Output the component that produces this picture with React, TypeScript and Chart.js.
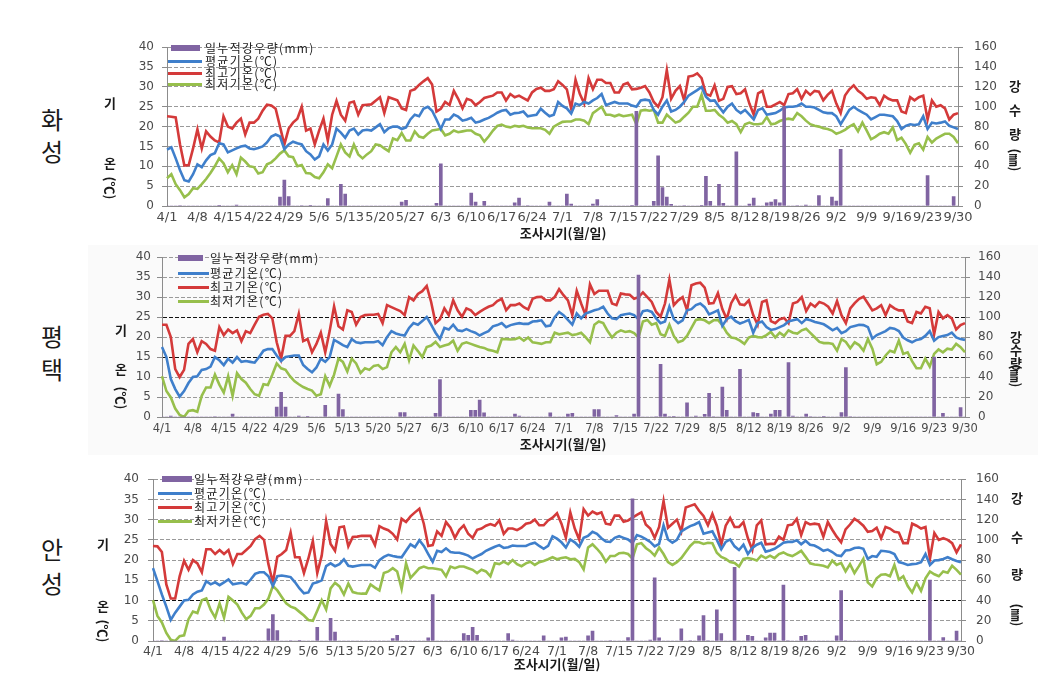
import React, { useEffect, useRef } from 'react';
import { Chart, registerables } from 'chart.js';

Chart.register(...registerables);

// ---------- categories ----------
const monthNames = ['4', '5', '6', '7', '8', '9'];
const monthLengths = [30, 31, 30, 31, 31, 30];
const dayLabels: string[] = [];
monthNames.forEach((m, k) => {
  for (let d = 1; d <= monthLengths[k]; d++) dayLabels.push(m + '/' + d);
});

const tickLabels = ['4/1', '4/8', '4/15', '4/22', '4/29', '5/6', '5/13', '5/20', '5/27', '6/3', '6/10', '6/17', '6/24', '7/1', '7/8', '7/15', '7/22', '7/29', '8/5', '8/12', '8/19', '8/26', '9/2', '9/9', '9/16', '9/23', '9/30'];

const seriesNames = ['일누적강우량(mm)', '평균기온(℃)', '최고기온(℃)', '최저기온(℃)'];
const stationNames = ['화성', '평택', '안성'];
const leftTitle = ['기', '온', '(℃)'];
const rightTitle = ['강', '수', '량', '(㎜)'];
const xTitle = '조사시기(월/일)';

// ---------- 화성 ----------
const hwaRain = [
  0, 0, 0, 0.5, 0, 0, 0,
  0, 0, 0, 0, 0, 0.3, 0,
  0, 0, 1, 0, 0, 0, 0,
  0, 0, 0, 0, 0, 9, 26,
  9.6, 0, 0, 0.5, 0, 0.3, 0,
  0, 0, 7.4, 0, 0, 21.8, 12,
  0, 0, 0, 0, 0, 0, 0,
  0, 0, 0, 0, 0, 4, 5.8,
  0, 0, 0, 0, 0, 0, 2.6,
  42.6, 0, 0, 0, 0, 0, 0,
  13, 4, 0, 4.8, 0, 0, 0,
  0, 0, 0, 3.2, 8, 0, 0.5,
  0, 0, 0, 0, 4, 0, 0,
  0, 12, 2, 0, 0, 0, 0,
  2, 6.4, 0, 0, 0, 0, 0,
  0, 0, 0.3, 95.4, 0, 0, 0,
  4.8, 50.6, 18.6, 9, 1.6, 0, 0,
  0.5, 0, 0, 0, 0.3, 29.8, 4.8,
  0, 21.8, 2.6, 0, 0, 54.7, 0,
  0, 2, 8, 0, 0, 3.2, 4,
  6.4, 3.2, 100, 0, 0, 0.5, 0,
  1, 0, 0, 10.6, 0, 0, 9,
  5, 57, 0, 0, 0, 0, 0,
  0, 0, 0, 0, 0, 0, 0,
  0, 0, 0, 0, 0, 0, 0,
  30.7, 0, 0, 0, 0, 0, 9.6,
  0,
];
const hwaAvg = [
  14.2, 14.8, 12, 9, 6.5, 6.2, 8,
  10.5, 9.8, 11.5, 12.8, 13.3, 15.8, 15.5,
  13.5, 14, 14.5, 15, 15.2, 14.5, 14.3,
  14.6, 15, 16, 17.5, 18, 17.5, 14.3,
  15.5, 16.2, 15.8, 15.5, 13.8, 13, 11.7,
  12.5, 15.5, 14, 15.5, 19.5, 18.5, 17.2,
  19, 19.5, 18, 19, 19.2, 19, 19.8,
  20.6, 18.6, 19.6, 20, 20, 19.4, 19.8,
  21.8, 23, 22.6, 24.5, 25, 24, 21.8,
  19.4, 21.8, 21.8, 23, 22.5, 21.5, 21.8,
  22.2, 21, 21.3, 21.8, 22.2, 22.8, 23.5,
  24, 24.2, 23, 23.4, 23.5, 23.8, 22.6,
  22.8, 23, 24.5, 23.5, 22.6, 23, 26.2,
  25.2, 24.6, 23.3, 25.8, 25.4, 26.2, 25.8,
  26.6, 27.2, 28.2, 25.4, 25.8, 26.2, 25.8,
  25.8, 25.8, 25.3, 25, 26.6, 26.8, 26.6,
  24.2, 23, 25, 26.6, 23.8, 24.2, 25,
  26.2, 27.8, 28.5, 29.2, 30, 27.5, 26.5,
  26.6, 25, 23.6, 25, 25.8, 24.2, 23.4,
  24.2, 23, 21.8, 24.2, 24.6, 23, 23.2,
  23.4, 24, 24.8, 25, 25, 25.2, 25.8,
  25, 25, 24.8, 24.2, 23.6, 23.4, 23.4,
  22.6, 20.6, 22.4, 24.2, 25, 24.2, 23.6,
  23, 21.8, 22.4, 23, 23, 22.8, 22.6,
  21.4, 19.4, 20.2, 20.6, 20.4, 20.6, 22.6,
  19.4, 21, 20.8, 21, 21.3, 20.2, 19.8,
  19.4,
];
const hwaMax = [
  22.6, 22.5, 22.3, 15.5, 10.2, 10.3, 14.5,
  19.3, 14.5, 18.8, 17.5, 16.5, 16, 22.6,
  20, 19.5, 21, 22, 18, 21, 21,
  22, 24, 25.5, 25.3, 24.5, 20, 15.5,
  19.5, 21, 22, 25, 19, 19.5, 15.5,
  19, 22, 16.5, 23, 26.5, 23, 21.5,
  26, 26.3, 23, 25.4, 25.5, 25.6, 26.5,
  27.4, 23.4, 27.4, 27, 26.6, 24.6, 24.2,
  29, 29.4, 30.5, 31.4, 32.2, 30.6, 23.8,
  24.5, 26.2, 25.4, 29, 27, 24.6, 27,
  26.6, 25.4, 26.2, 27.2, 27.5, 27.8, 28.6,
  28.6, 26.6, 28.2, 27.4, 27.8, 27.2, 26.6,
  28.6, 29.5, 29.8, 29, 29, 29.4, 31.4,
  30.5, 29.4, 24.5, 31.8, 28.2, 25.8, 32.2,
  29.4, 31.8, 31.8, 31, 31, 28.6, 28.6,
  30.6, 31, 29.4, 29.5, 29.8, 30.2, 28.6,
  26.2, 25, 27.4, 34.2, 27, 29, 30.2,
  26.6, 32.6, 32.8, 33.4, 32.2, 28.2, 27.8,
  30.4, 26.5, 27, 30, 30.2, 28.2, 28.4,
  29.4, 25.8, 23, 28.4, 29, 25, 25,
  25.6, 26.2, 25.4, 28.2, 28.4, 29.4, 27,
  29, 28, 29, 28.8, 26.6, 28, 29,
  25.8, 23.4, 27.8, 29.4, 30.4, 29, 28.2,
  27, 27.4, 27.2, 25.4, 27.8, 27, 26.6,
  26.6, 23.8, 23.4, 27.4, 26.6, 27.4, 27.8,
  21.8, 26.6, 25, 25.4, 24.6, 21.8, 23,
  23.4,
];
const hwaMin = [
  7, 8, 5.5, 4, 2.2, 3, 4.5,
  4.3, 5.5, 6.8, 8.3, 10, 12, 10.8,
  8.5, 10.3, 8, 12.2, 11.2, 10, 9.8,
  8.2, 8.5, 10.5, 11, 12, 13.2, 14,
  12.5, 12.3, 10, 10.3, 8.3, 8.2, 7.3,
  7, 8.5, 10.5, 9.5, 12.5, 15.5, 13.5,
  12.5, 15.5, 13, 12, 13, 13.8, 15.5,
  15.3, 14.5, 13.8, 17, 16.6, 18.4, 16.5,
  16.5, 18.8, 17.5, 17.2, 18.2, 19, 19.2,
  19.4, 17.8, 18.2, 19, 18.6, 18.8, 19,
  19, 18.2, 17.8, 16.2, 17.5, 19, 20.2,
  20.5, 20, 19.8, 20.2, 20, 20.2, 19.8,
  19.6, 19.6, 19.6, 19.2, 18.2, 20, 20.6,
  21.2, 21.3, 21.3, 21.8, 21.8, 21.5, 20.6,
  23.4, 24.2, 25, 23, 23, 22.6, 23,
  22.6, 22.8, 23, 20.6, 24, 24.2, 24,
  24.2, 21, 21, 23, 22, 21, 21.4,
  22.5, 23.5, 25, 25, 28, 24, 24,
  24.2, 23, 22.2, 21, 21.4, 20.6, 18.6,
  20.6, 21, 20.6, 20.6, 20.8, 22.4, 20.6,
  20.8, 21.4, 21.8, 22, 21.8, 23.4, 22.6,
  21.5, 20.6, 20.2, 20, 19.6, 19.4, 19,
  18.2, 18.6, 19.2, 20, 20.6, 18.8, 21,
  19, 16.8, 17.4, 18.2, 18.6, 18.2, 19.8,
  16.6, 17.2, 15.6, 13.4, 15.4, 15.8, 14.2,
  17.4, 16, 17, 17.6, 18.2, 18.2, 17.4,
  15.8,
];

// ---------- 평택 ----------
const pyRain = [
  0, 0, 1, 0, 0, 0, 0,
  0, 0, 0, 0, 0, 0.5, 0,
  0, 0, 2.9, 0, 0, 0, 0,
  0, 0, 0, 0, 0, 10, 24.6,
  10, 0, 0, 1, 0, 0.3, 0,
  0, 0, 11.6, 0, 0, 23, 7.4,
  0, 0, 0, 0, 0, 0, 0,
  0, 0, 0, 0, 0, 4.5, 4.5,
  0, 0, 0, 0, 0, 0, 3.6,
  37.5, 0, 0, 0, 0, 0, 0,
  6.8, 6.8, 17, 4.2, 0, 0, 0,
  0, 0, 0, 2.9, 1, 0, 0,
  0, 0, 0, 0, 4.2, 0, 0,
  0, 2.9, 3.6, 0, 0, 0, 0,
  7.4, 7.4, 0, 0, 0, 1.5, 0,
  0, 0, 2.9, 142, 0, 0, 0,
  0.5, 52.7, 2.9, 0.5, 0.3, 0, 0,
  14.2, 0, 1, 0, 2.6, 23.6, 0.5,
  0, 30, 6.8, 0, 0, 47.8, 0,
  0, 4.5, 3.6, 0, 0, 2.9, 6.8,
  6.8, 0, 54.6, 1, 0, 0, 2.9,
  0.5, 0, 0, 0.3, 0, 0, 0,
  4.5, 49.5, 0.5, 0, 0, 0, 0,
  0, 0, 0, 0, 0, 0, 0,
  0, 0, 0, 0, 0, 0, 0,
  60, 0, 3.6, 0, 0, 0, 9.4,
  0,
];
const pyAvg = [
  17.5, 15, 9.5, 7, 5.1, 6.5, 8.5,
  10, 10.2, 11.8, 12, 12.6, 15, 14.2,
  13, 14.6, 13.6, 15, 13.8, 14, 13.8,
  13.6, 15, 16.6, 17, 17, 15.4, 14,
  15, 15.2, 15.4, 15.4, 13, 12, 11.2,
  12.4, 14.6, 13.8, 15, 19.3, 18.7, 18,
  17.5, 19.5, 18.7, 18.5, 18.7, 18.7, 18.7,
  19, 18, 20, 21.5, 20.9, 20.6, 20.4,
  22.3, 23.5, 23.1, 24, 25, 23.1, 21.1,
  19.5, 22.3, 21.9, 23.1, 21.7, 21.5, 22,
  21.5, 21.1, 20.4, 21, 21.5, 22.7, 23,
  23.5, 22.5, 23, 23.3, 23.5, 23.3, 23.3,
  23.9, 24, 24.2, 22.7, 22.9, 25, 26.3,
  25.5, 24.3, 23.1, 25.9, 24.7, 25.9, 26.3,
  26.7, 27, 27.6, 25.9, 24.7, 24.5, 25.5,
  25.7, 25.9, 25.5, 24.5, 26.5, 26.7, 26.3,
  24.7, 23.5, 23.9, 27.6, 24.5, 23.5, 24.2,
  26.7, 27, 28, 28.4, 27.5, 25.7, 26.2,
  26.7, 22.8, 24.5, 25.1, 24, 23.4, 23.8,
  24.3, 21.1, 23.5, 23.9, 22.5, 21.8, 22,
  22.5, 23, 23.9, 24.2, 24.5, 23.5, 24.5,
  24.2, 23.8, 23.5, 23.2, 22.5, 21.7, 22.3,
  21, 21.5, 22.5, 22.8, 23.1, 23, 22.5,
  19.6, 20.5, 21, 21.5, 22.3, 22.1, 21.5,
  19.9, 19.2, 18.7, 19.3, 19.5, 20.3, 21.5,
  19.1, 20, 20.3, 20.5, 21.1, 19.9, 19.5,
  19.3,
];
const pyMax = [
  23.1, 23.1, 20, 12, 10, 11.8, 18.3,
  19.5, 16.2, 19, 18.3, 17, 16.6, 22.5,
  20.5, 21.9, 21, 21.7, 19, 21.5, 21,
  23.1, 25.1, 25.6, 25.8, 24.7, 18.7, 14.6,
  20.3, 20.3, 21.5, 25.8, 19, 19.5, 16.2,
  18.3, 21.1, 16.2, 21.5, 27.7, 22.7, 21.9,
  26.7, 26.3, 23.1, 25, 25.5, 25.6, 25.6,
  25.8, 23.5, 28, 27.5, 27, 26.5, 25.5,
  30, 29.2, 30.8, 31.5, 32.8, 28.8, 23.5,
  24.5, 27.2, 25.5, 29.2, 26.7, 25.1, 27.2,
  26.7, 25.5, 26.3, 27, 27.6, 28, 29,
  29.6, 26.7, 28, 28, 28.4, 27.5, 26.9,
  29.6, 30, 30.1, 29.2, 29.2, 30, 32,
  30.5, 29.2, 25.5, 31.6, 28.4, 25.5, 33.2,
  30.8, 31.6, 31.6, 31.6, 28.4, 28, 30.9,
  30.7, 30.6, 29.6, 30, 31.2, 30, 28.8,
  26.3, 25.1, 28.4, 34.4, 28, 29.2, 30,
  26.7, 33, 33.4, 33.6, 32.4, 28.4, 28.5,
  31, 27, 24.5, 28.5, 30.4, 28.2, 28,
  29.2, 25.5, 23.1, 28.8, 29.2, 24, 23.5,
  24.5, 24.8, 23.5, 28.4, 28.8, 30, 26.5,
  28.4, 27.6, 28.8, 28.4, 27.6, 25.9, 29,
  25.5, 23.5, 27.2, 28.5, 29.6, 30.1, 28.4,
  26.7, 27.2, 28, 25.5, 28, 27.2, 26.7,
  26.7, 23.9, 23.5, 26.3, 25.9, 27.6, 27.2,
  20.7, 26.3, 24.7, 25.5, 24.7, 21.9, 23,
  23.5,
];
const pyMin = [
  10.2, 6.5, 4.9, 2.1, 0.5, 0, 1.5,
  1.7, 1.3, 5.3, 7.4, 7.4, 10.6, 8.1,
  6.1, 10.2, 5.3, 11, 9.5, 8.6, 7,
  5.7, 5.3, 8.2, 8, 10.6, 13.4, 12.2,
  11.8, 10.2, 9, 8.2, 7.5, 7, 6.6,
  5.3, 5.7, 10.2, 7.8, 10.6, 14.6, 13.8,
  11.4, 14.6, 13.4, 11, 12.2, 11.8, 12.8,
  13, 12, 12.5, 16.2, 17.5, 16.2, 18.3,
  14.2, 17.9, 16.5, 15, 17.5, 17.9, 18.8,
  17.5, 17.9, 18.2, 19.1, 16.6, 18.3, 18.7,
  18.3, 17.9, 17.5, 17.3, 16.8, 16.6, 16.2,
  19.5, 19.5, 19.4, 19.5, 19.9, 19.1, 19.9,
  18.7, 18.5, 18.3, 18.7, 18.7, 21.1, 20.7,
  20.9, 21.1, 20.5, 20.7, 21.1, 20, 18.7,
  23.1, 23.9, 23.5, 21.5, 19.9, 21.1, 21.7,
  21.3, 21.5, 21, 19.9, 23.9, 24.3, 23.1,
  23.5, 20.7, 20.3, 23.1, 20.3, 18.7, 19.1,
  20.3, 22.3, 24.3, 24.5, 24.2, 23.5, 24.2,
  24.3, 23, 21.1, 19.9, 19.7, 19.1, 18.3,
  19.9, 20.3, 20, 19.9, 20.5, 21.3, 19.9,
  21.1, 20.3, 21.7, 21.1, 20.9, 21.7, 22.1,
  21, 19.9, 18.8, 18.5, 18.5, 18.3, 16.6,
  19.5, 18.8, 17.2, 18.7, 18, 16.6, 19.5,
  17.1, 13.2, 13.8, 15.4, 16.6, 16.2, 19.1,
  15.8, 16.2, 14, 12.2, 12.2, 14.6, 12.6,
  15.8, 16.9, 16.2, 17.1, 16.9, 18.3, 17.5,
  16.2,
];

// ---------- 안성 ----------
const ansRain = [
  0, 0, 0.5, 0, 0, 0, 0,
  0, 0, 0, 0, 0, 0, 0,
  0, 0, 4, 0, 0, 0, 0,
  0, 0, 0, 0, 0, 12, 26.2,
  10.4, 0, 0, 0.5, 0, 0.3, 0,
  0, 0, 13.6, 0, 0, 22.4, 8.8,
  0, 0, 0, 0, 0, 0, 0,
  0, 0, 0, 0, 0, 2.5, 5.7,
  0, 0, 0, 0, 0, 0, 3.2,
  46, 0, 0, 0, 0, 0, 0,
  7.3, 5.7, 13.6, 5.7, 0, 0, 0,
  0, 0, 0, 7.3, 1, 0, 0,
  0, 0, 0, 0, 5, 0, 0,
  0, 3.2, 4, 0, 0, 0, 0,
  5, 9.8, 0, 0, 0, 0.5, 0,
  0, 0, 3.5, 140.7, 0, 0, 0,
  1, 62.5, 3.2, 0, 0, 0, 0,
  12, 0, 0.5, 0, 5, 25.2, 0.5,
  0, 30.9, 7.3, 0, 0, 72.9, 0,
  0, 5.7, 4.7, 0, 0, 3.2, 7.9,
  7.9, 0, 55.2, 0.5, 0, 0, 4.7,
  5.7, 0, 0, 0, 0, 0, 0,
  5, 49.9, 0.5, 0, 0, 0, 0,
  0, 0, 0, 0, 0, 0, 0,
  0, 0, 0, 0, 0, 0, 0,
  60.3, 0, 0, 3.5, 0, 0, 9.8,
  0,
];
const ansAvg = [
  18, 14.8, 11.5, 8.5, 5.2, 7, 8.5,
  10, 10.2, 11.5, 12.2, 12.5, 14.8, 14,
  14.5, 13.8, 14.5, 15.2, 14, 14.2, 14.4,
  14, 15.2, 16.6, 17, 17, 16, 13.6,
  16, 16.2, 16, 15.8, 14.5, 13, 11.8,
  12, 14.2, 14.5, 15, 18.5, 19.2, 18.5,
  19, 20.2, 18.6, 18.4, 18.6, 18.8, 18.8,
  18.8, 18.1, 20, 20.8, 21.3, 21, 20.8,
  20.7, 22.3, 23.9, 23.2, 24.9, 23.5, 21.5,
  19.6, 22.3, 22, 22.9, 22, 21.8, 21.8,
  21.5, 21.1, 20.4, 21, 21.5, 22.3, 22.8,
  23.3, 23.7, 23, 23.2, 23.6, 23.5, 23.5,
  23.5, 24, 24.3, 23.5, 22.8, 23.5, 25.9,
  25.3, 24.4, 23.1, 25.1, 24.4, 23.3, 25.5,
  26, 27, 26.5, 25.4, 24.6, 24.5, 25.5,
  25.9, 25.5, 25.1, 24.2, 26.2, 25.8, 25.2,
  24.5, 23.4, 24, 28.6, 25.1, 24.3, 25,
  27.1, 27.8, 28.4, 28.8, 29.4, 26.5, 26.8,
  27.1, 25, 22.7, 24.5, 25.1, 23.4, 22.5,
  23.8, 21.5, 23, 23.8, 24.3, 22.1, 22.4,
  22.8, 23.5, 24.3, 24.5, 24.5, 24.9, 23.9,
  24.8, 23.8, 23.6, 23, 22.3, 22.6, 22,
  21.2, 21, 22.4, 22.5, 23, 23.1, 22.8,
  20.3, 21, 20.8, 22.3, 22.2, 22, 21.5,
  19.5, 19.2, 18.8, 19, 19.1, 19.5, 21.5,
  18.8, 19.9, 20, 20.3, 20.7, 20.2, 19.8,
  19.5,
];
const ansMax = [
  23.5, 23.4, 22, 14, 10.5, 10.5, 16,
  19.8, 17.6, 20, 19.2, 17, 22.7, 22.7,
  21.5, 22.5, 21.5, 22.5, 19, 21.5, 21.5,
  22.5, 23.5, 25.2, 26, 25, 19, 14.4,
  20.8, 21.5, 22.5, 26.8, 20.7, 20.7, 16.8,
  20.4, 24.7, 16.8, 21.1, 29.7, 24, 22.3,
  28.1, 28.3, 23.4, 25.7, 25.8, 26, 26,
  26, 23.7, 28.4, 27.8, 27.4, 26.5, 25.1,
  30.2, 29.4, 30.8, 31.8, 32.7, 29, 23.5,
  23.7, 27.1, 26, 29.4, 28, 25.5, 27.5,
  28.6, 26.5, 25.5, 27.5, 27.8, 28.5, 28.9,
  28.5, 29.8, 26.5, 27.8, 27.8, 27.4, 28,
  29, 29.2, 30, 28.6, 28.6, 29.8, 30.5,
  31.6, 29, 25.5, 31.8, 27.8, 25.1, 32.6,
  31, 32, 31.4, 31.8, 29, 28.8, 31,
  31, 29.5, 29.8, 30.5, 31.2, 31.8, 28.8,
  27.8, 25.5, 28.2, 34.6, 28, 29, 30,
  27.1, 33, 33.4, 33.8, 32.2, 30.9, 28.6,
  31.4, 28.5, 23.8, 28.5, 30.4, 28.2, 28.2,
  29.4, 25.4, 22.5, 28.6, 29.8, 23.9, 24,
  24, 25.8, 25, 28.6, 28.8, 30.2, 26.2,
  29.4, 28.8, 29, 28.8, 25.8, 29.4, 27.5,
  25.8, 24.4, 27.6, 28.8, 30.2, 29.5, 28.5,
  27, 27.2, 28, 25.4, 28.2, 27.8, 27,
  26.8, 24.2, 24.2, 29, 28.5, 27.8, 28.2,
  20.3, 26.7, 25, 25.4, 25, 24.2, 21.9,
  23.9,
];
const ansMin = [
  10.1, 6.2, 4.6, 2, 0.3, 0, 1.2,
  1.4, 5.4, 7.3, 6.9, 10.1, 10.5, 7.7,
  5.8, 9.3, 5.8, 10.9, 10, 9, 7,
  5.4, 6.2, 8.1, 8.1, 9, 10.5, 13.6,
  12.5, 10.9, 9.3, 8.5, 8.1, 7.2, 6.3,
  5.2, 5, 7.5, 10.1, 7.8, 13, 14.4,
  13.5, 11.5, 14.2, 12.1, 11.8, 11.7, 11.7,
  14, 13.2, 12.5, 16.8, 17.2, 18, 17.2,
  12.9, 19.2, 15.6, 16.8, 18, 18.4, 18,
  18, 17.8, 17.6, 16, 18.4, 18, 18.4,
  18.4, 18, 17.6, 16.8, 17.6, 17.2, 16,
  19.2, 19, 19.6, 19, 20, 19, 18.5,
  19.2, 19.6, 18.8, 19.5, 19.8, 20.2, 20.7,
  20.2, 20.5, 20.7, 20.2, 20.3, 19.5, 17.7,
  23.1, 23.9, 22.8, 21.5, 19.6, 21, 21,
  21.7, 21.8, 21.5, 20.4, 23.9, 24.2, 23,
  22.2, 21.1, 23.1, 21.5, 19.5, 18.8, 19.5,
  20.5, 22, 23.5, 24.5, 24.4, 24, 24.3,
  24.2, 21.8, 20.8, 20.3, 19.5, 19.3, 18.4,
  20.3, 20.5, 20.3, 19.9, 21.1, 20.5, 21.1,
  20.5, 21.5, 21.9, 21.3, 21, 21.6, 22.3,
  20.8, 19.2, 18.9, 18.8, 18.6, 18.2, 19.9,
  18.8, 19.3, 17.2, 19, 16.8, 18.5, 20.3,
  14.5, 13.5, 15.5, 16.4, 16.5, 16, 18.8,
  15.2, 16, 13.6, 12, 14.4, 12.4, 15.5,
  17.2, 16.5, 16, 17.2, 16.9, 18.6, 17.6,
  16.4,
];

// ---------- styling ----------
const KR = '"Noto Sans CJK KR", "Noto Sans", sans-serif';
const TICKFONT = '"DejaVu Sans", sans-serif';
const colRain = '#8064A2';
const colAvg = '#3F7FCB';
const colMax = '#D43A3A';
const colMin = '#97BF4C';
const seriesColors = [colRain, colAvg, colMax, colMin];
const axisColor = '#8C8C8C';
const gridColor = '#9A9A9A';
const tickColor = '#4A4A4A';

type Geo = {
  L: number; R: number; T: number; B: number;
  fs: number; padL: number; padR: number; padX: number;
  dark: number[];
};

const PAD = 10;
const SIDE = 60;
const XH = 30;
const TL = 5;

function PanelChart({ g, rain, avg, max, min }: { g: Geo; rain: number[]; avg: number[]; max: number[]; min: number[] }) {
  const ref = useRef<HTMLCanvasElement>(null);
  const w = g.R - g.L + SIDE * 2;
  const h = g.B - g.T + PAD + XH;
  useEffect(() => {
    const chart = new Chart(ref.current as HTMLCanvasElement, {
      type: 'bar',
      data: {
        labels: dayLabels,
        datasets: [
          { type: 'bar', label: seriesNames[0], data: rain, yAxisID: 'y1', backgroundColor: colRain, barThickness: 3, order: 0 } as any,
          { type: 'line', label: seriesNames[1], data: avg, yAxisID: 'y', borderColor: colAvg, borderWidth: 2.6, pointRadius: 0, tension: 0, order: 1 },
          { type: 'line', label: seriesNames[2], data: max, yAxisID: 'y', borderColor: colMax, borderWidth: 2.6, pointRadius: 0, tension: 0, order: 2 },
          { type: 'line', label: seriesNames[3], data: min, yAxisID: 'y', borderColor: colMin, borderWidth: 2.6, pointRadius: 0, tension: 0, order: 3 },
        ],
      },
      options: {
        responsive: false,
        animation: false,
        devicePixelRatio: 1,
        layout: { padding: { top: PAD, left: 0, right: 0, bottom: 0 } },
        plugins: { legend: { display: false }, tooltip: { enabled: false } },
        scales: {
          x: {
            type: 'category',
            offset: false,
            grid: { display: false, drawTicks: false },
            border: { display: true, color: axisColor, width: 1 },
            ticks: {
              autoSkip: false, maxRotation: 0, minRotation: 0, padding: g.padX,
              color: tickColor, font: { family: TICKFONT, size: g.fs },
              callback: (_v: any, i: number) => (i % 7 === 0 ? tickLabels[i / 7] : null),
            },
            afterFit: (s: any) => { s.height = XH; },
          },
          y: {
            position: 'left', min: 0, max: 40,
            ticks: { stepSize: 5, padding: g.padL - TL, color: tickColor, font: { family: TICKFONT, size: 12 } },
            grid: {
              drawTicks: true, tickLength: TL, tickColor: axisColor, lineWidth: 1,
              color: (ctx: any) => (ctx.tick && g.dark.includes(ctx.tick.value) ? '#111111' : gridColor),
            },
            border: { display: true, color: axisColor, width: 1, dash: [4, 2] },
            afterFit: (s: any) => { s.width = SIDE; },
          },
          y1: {
            position: 'right', min: 0, max: 160,
            ticks: { stepSize: 20, padding: g.padR - TL, color: tickColor, font: { family: TICKFONT, size: 12 } },
            grid: { drawOnChartArea: false, drawTicks: true, tickLength: TL, tickColor: axisColor },
            border: { display: true, color: axisColor, width: 1 },
            afterFit: (s: any) => { s.width = SIDE; },
          },
        },
      } as any,
    });
    return () => chart.destroy();
  }, []);
  return (
    <canvas
      ref={ref}
      width={w}
      height={h}
      style={{ position: 'absolute', left: g.L - SIDE, top: g.T - PAD, width: w, height: h, display: 'block' }}
    />
  );
}

const Txt = ({ x, y, t, size = 14, weight = 700, rot = 0, family = KR }: any) => (
  <div
    style={{
      position: 'absolute', left: x, top: y,
      transform: `translate(-50%, -50%) rotate(${rot}deg)`,
      fontSize: size, fontWeight: weight, fontFamily: family,
      whiteSpace: 'nowrap', lineHeight: 1, color: '#1A1A1A', zIndex: 2,
    }}
  >
    {t}
  </div>
);

type LegendGeo = { barX0: number; barX1: number; lineX0: number; lineX1: number; textX: number; rows: number[] };

const Legend = ({ lg }: { lg: LegendGeo }) => (
  <>
    {seriesNames.map((name, k) => (
      <React.Fragment key={k}>
        <div
          style={{
            position: 'absolute', zIndex: 2,
            left: k === 0 ? lg.barX0 : lg.lineX0,
            width: k === 0 ? lg.barX1 - lg.barX0 : lg.lineX1 - lg.lineX0,
            top: lg.rows[k] - (k === 0 ? 3 : 1.5),
            height: k === 0 ? 6 : 3,
            background: seriesColors[k],
          }}
        />
        <div
          style={{
            position: 'absolute', zIndex: 2, left: lg.textX, top: lg.rows[k],
            transform: 'translateY(-50%)', fontSize: 12, fontFamily: KR, letterSpacing: '1.3px',
            lineHeight: 1, whiteSpace: 'nowrap', color: '#222',
          }}
        >
          {name}
        </div>
      </React.Fragment>
    ))}
  </>
);

const geos: Geo[] = [
  { L: 167, R: 958, T: 39, B: 206, fs: 13, padL: 13, padR: 16, padX: 4, dark: [] },
  { L: 162, R: 965, T: 252, B: 417, fs: 11.5, padL: 11, padR: 13, padX: 5, dark: [15, 25] },
  { L: 153, R: 961, T: 472, B: 641, fs: 12.5, padL: 14, padR: 15, padX: 3, dark: [10] },
];

const legends: LegendGeo[] = [
  { barX0: 171, barX1: 200, lineX0: 168, lineX1: 202, textX: 205, rows: [48, 61, 73, 84] },
  { barX0: 178, barX1: 203, lineX0: 178, lineX1: 209, textX: 210, rows: [258, 273, 287, 301] },
  { barX0: 162, barX1: 192, lineX0: 158, lineX1: 192, textX: 194, rows: [479, 493, 507, 521] },
];

const stationPos = [[119, 151], [336, 369], [549, 583]];
const leftTitlePos = [
  { x: 110, ys: [102, 162, 188] },
  { x: 121, ys: [329, 368, 398] },
  { x: 103, ys: [543, 605, 631] },
];
const rightTitlePos = [
  { x: 1015, ys: [85, 109, 133, 160] },
  { x: 1016, ys: [336, 349, 362, 376] },
  { x: 1017, ys: [497, 536, 573, 615] },
];
const xTitlePos = [[563, 232], [563, 443], [557, 663]];

const panelData = [
  { rain: hwaRain, avg: hwaAvg, max: hwaMax, min: hwaMin },
  { rain: pyRain, avg: pyAvg, max: pyMax, min: pyMin },
  { rain: ansRain, avg: ansAvg, max: ansMax, min: ansMin },
];

export default function App() {
  return (
    <div style={{ position: 'absolute', left: 0, top: 0, width: 1060, height: 686, background: '#FFFFFF', overflow: 'hidden' }}>
      <div style={{ position: 'absolute', left: 88, top: 245, width: 950, height: 210, background: '#FAFAFA' }} />
      {geos.map((g, p) => (
        <React.Fragment key={p}>
          <PanelChart g={g} {...panelData[p]} />
          <Legend lg={legends[p]} />
          {stationNames[p].split('').map((ch, k) => (
            <Txt key={'s' + k} x={52} y={stationPos[p][k]} t={ch} size={24} weight={400} />
          ))}
          {leftTitle.map((t, k) => (
            <Txt key={'l' + k} x={leftTitlePos[p].x} y={leftTitlePos[p].ys[k]} t={t} size={13} rot={k === 2 ? 90 : 0} />
          ))}
          {rightTitle.map((t, k) => (
            <Txt key={'r' + k} x={rightTitlePos[p].x} y={rightTitlePos[p].ys[k]} t={t} size={13} rot={k === 3 ? 90 : 0} />
          ))}
          <Txt x={xTitlePos[p][0]} y={xTitlePos[p][1]} t={xTitle} size={13} />
        </React.Fragment>
      ))}
    </div>
  );
}
